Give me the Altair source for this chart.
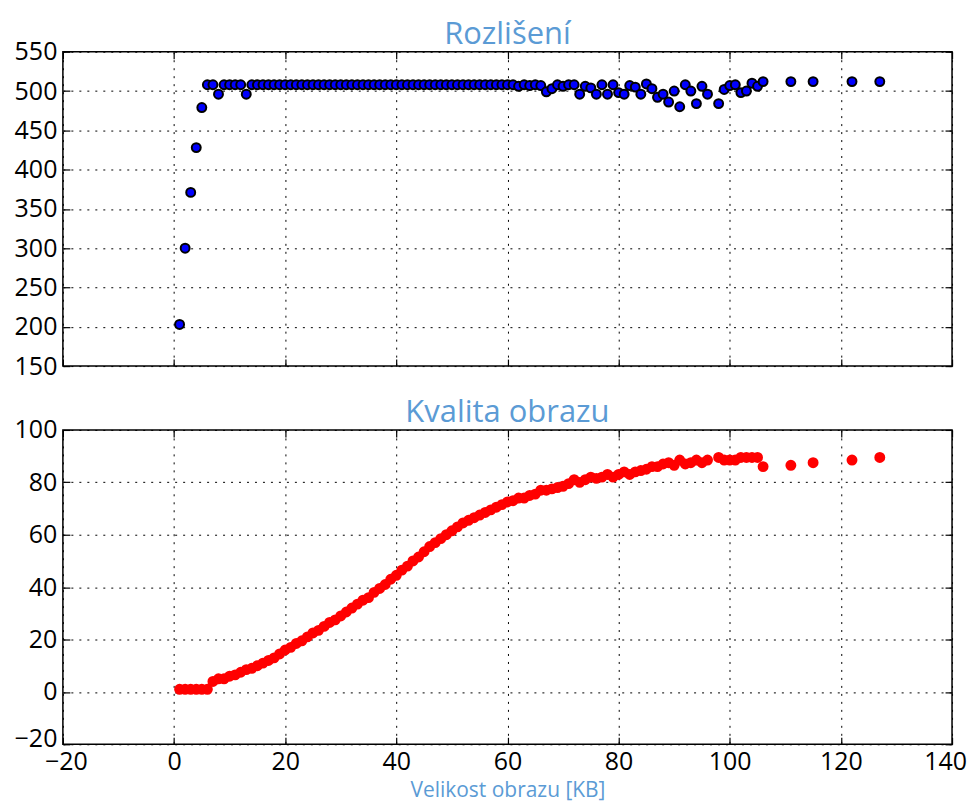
import altair as alt
import pandas as pd

# x: image size in KB
size_kb = [
    1, 2, 3, 4, 5, 6, 7, 8, 9, 10,
    11, 12, 13, 14, 15, 16, 17, 18, 19, 20,
    21, 22, 23, 24, 25, 26, 27, 28, 29, 30,
    31, 32, 33, 34, 35, 36, 37, 38, 39, 40,
    41, 42, 43, 44, 45, 46, 47, 48, 49, 50,
    51, 52, 53, 54, 55, 56, 57, 58, 59, 60,
    61, 62, 63, 64, 65, 66, 67, 68, 69, 70,
    71, 72, 73, 74, 75, 76, 77, 78, 79, 80,
    81, 82, 83, 84, 85, 86, 87, 88, 89, 90,
    91, 92, 93, 94, 95, 96,
    98, 99, 100, 101, 102, 103, 104, 105, 106,
    111, 115, 122, 127,
]

# top panel: resolution
resolution = [
    203, 300, 371, 428, 479, 508, 508, 496, 508, 508,
    508, 508, 496, 508, 508, 508, 508, 508, 508, 508,
    508, 508, 508, 508, 508, 508, 508, 508, 508, 508,
    508, 508, 508, 508, 508, 508, 508, 508, 508, 508,
    508, 508, 508, 508, 508, 508, 508, 508, 508, 508,
    508, 508, 508, 508, 508, 508, 508, 508, 508, 508,
    508, 506, 508, 507, 508, 507, 499, 503, 508, 506,
    508, 508, 496, 506, 504, 496, 508, 496, 508, 498,
    496, 507, 505, 496, 509, 503, 492, 496, 486, 500,
    480, 508, 500, 484, 506, 496,
    484, 502, 507, 508, 498, 500, 510, 506, 512,
    512, 512, 512, 512,
]

# bottom panel: image quality
quality = [
    1, 1, 1, 1, 1, 1, 4, 5, 5, 6,
    6.5, 7.5, 8.5, 9, 10, 11, 12, 13, 14.5, 16,
    17, 18.5, 19.5, 21, 22.5, 23.5, 25, 26.5, 27.5, 29,
    30.5, 32, 33.5, 35, 36, 38, 39.5, 41, 43, 44.5,
    46.5, 48, 50, 51.5, 53.5, 55.5, 57, 58.5, 60, 61.5,
    63, 64.5, 65.5, 66.5, 67.5, 68.5, 69.5, 70.5, 71.5, 72.5,
    73, 74, 74, 75, 75.5, 77, 77, 77.5, 78, 78.5,
    79.5, 81, 80, 81, 82, 81.5, 82, 83, 82, 83,
    84, 83, 84, 84.5, 85, 86, 86, 87, 87.5, 86.5,
    88.5, 87, 87.5, 88.5, 87.5, 88.5,
    89.5, 88.5, 88.5, 88.5, 89.5, 89.5, 89.5, 89.5, 86,
    86.5, 87.5, 88.5, 89.5,
]

x_ticks = [-20, 0, 20, 40, 60, 80, 100, 120, 140]
res_ticks = [150, 200, 250, 300, 350, 400, 450, 500, 550]
q_ticks = [-20, 0, 20, 40, 60, 80, 100]

df = pd.DataFrame({"size": size_kb, "res": resolution, "q": quality})

FONT = "Open Sans"
TITLE_BLUE = "#5b9bd5"
LABEL_SIZE = 25
TICK_LEN = 7


def grid_axis(values, orient, labels, extent, title=None, title_kw=None):
    kw = dict(
        orient=orient, values=values, grid=True, gridColor="black",
        gridDash=[2, 6], gridWidth=1, gridOpacity=1, ticks=False,
        domain=False, labels=labels, labelFont=FONT, labelFontSize=LABEL_SIZE,
        labelColor="black", labelPadding=6, labelFlush=False,
        minExtent=extent, maxExtent=extent, title=title,
    )
    if title_kw:
        kw.update(title_kw)
    return alt.Axis(**kw)


def tick_axis(values, orient):
    return alt.Axis(
        orient=orient, values=values, grid=False, domain=False, labels=False,
        ticks=True, tickSize=TICK_LEN, tickColor="black", tickWidth=1.2,
        offset=-TICK_LEN, minExtent=0, maxExtent=0, title=None,
    )


def panel(field, ydom, yvals, title, fill, stroke, bottom_labels):
    xs = alt.Scale(domain=[-20, 140], nice=False, zero=False)
    ys = alt.Scale(domain=ydom, nice=False, zero=False)
    base = alt.Chart(df)
    if bottom_labels:
        x_ax = grid_axis(
            x_ticks, "bottom", True, 33, title="Velikost obrazu [KB]",
            title_kw=dict(titleFont=FONT, titleFontSize=21, titleColor=TITLE_BLUE,
                          titleFontWeight="normal", titlePadding=2, labelPadding=5,
                          labelOffset={"expr": "datum.value == 140 ? -7 : (datum.value == -20 ? 3 : 0)"}),
        )
        y_ax = grid_axis(yvals, "left", True, 50,
                         title_kw=dict(labelOffset={"expr": "datum.value == -20 ? -6 : 0"}))
    else:
        x_ax = grid_axis(x_ticks, "bottom", False, 0)
        y_ax = grid_axis(yvals, "left", True, 50)
    pts = base.mark_circle(
        size=80, fill=fill, stroke=stroke, strokeWidth=2, opacity=1
    ).encode(
        x=alt.X("size:Q", scale=xs, axis=x_ax),
        y=alt.Y(f"{field}:Q", scale=ys, axis=y_ax),
    )
    t1 = base.mark_circle(opacity=0, size=1).encode(
        x=alt.X("size:Q", scale=xs, axis=tick_axis(x_ticks, "bottom")),
        y=alt.Y(f"{field}:Q", scale=ys, axis=tick_axis(yvals, "left")),
    )
    t2 = base.mark_circle(opacity=0, size=1).encode(
        x=alt.X("size:Q", scale=xs, axis=tick_axis(x_ticks, "top")),
        y=alt.Y(f"{field}:Q", scale=ys, axis=tick_axis(yvals, "right")),
    )
    return alt.layer(pts, t1, t2).resolve_axis(
        x="independent", y="independent"
    ).properties(
        width=891, height=315,
        title=alt.TitleParams(title, font=FONT, fontSize=31, color=TITLE_BLUE,
                              fontWeight="normal", offset=-11, anchor="middle"),
    )


top = panel("res", [150, 550], res_ticks, "Rozlišení", "#0000ff", "black", False)
bottom = panel("q", [-20, 100], q_ticks, "Kvalita obrazu", "#ff0000", "#ff0000", True)

chart = alt.vconcat(top, bottom, spacing=16).properties(
    padding={"left": 4, "top": 9, "right": 0, "bottom": 0},
    background="white",
).configure_view(stroke="black", strokeWidth=1.5)

chart.save("out.html", embed_options={"renderer": "svg", "actions": False})
